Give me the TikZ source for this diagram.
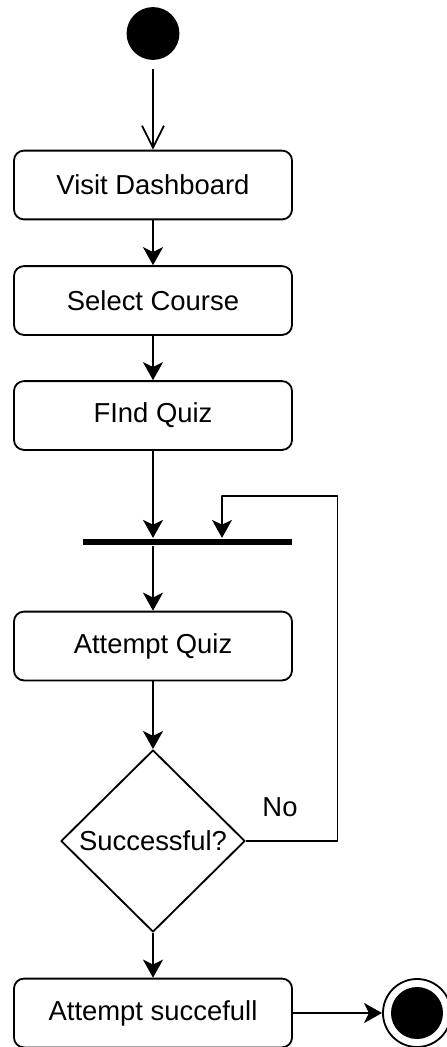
\documentclass[tikz,border=0pt]{standalone}
\usepackage{fontspec}
\setmainfont{Liberation Sans}
\usetikzlibrary{arrows.meta,shapes.geometric}
\begin{document}
\begin{tikzpicture}[x=0.025cm, y=-0.025cm, line join=round, line width=1.3pt, font=\fontsize{19.5pt}{23pt}\selectfont, >={Stealth[length=0.45cm,width=0.5cm,inset=0.12cm]},
	act/.style={draw, rounded corners=0.25cm, minimum width=6.95cm, minimum height=1.72cm, inner sep=0pt},
	decide/.style={draw, diamond, minimum width=4.6cm, minimum height=4.55cm, inner sep=0pt},
	bar/.style={fill, rectangle, minimum width=5.22cm, minimum height=0.16cm, inner sep=0pt}]
	\useasboundingbox (0,0) rectangle (447,1047);
	\node (start) [circle, fill, minimum size=1.32cm, inner sep=0pt] at (153,33.5) {};
	\node (visit) [act] at (153,185) {Visit Dashboard};
	\node (select) [act] at (153,300.5) {Select Course};
	\node (find) [act] at (153,415.5) {FInd Quiz};
	\node (fork) [bar] at (187.5,542) {};
	\node (attempt) [act] at (153,646) {Attempt Quiz};
	\node (check) [decide] at (153,841) {Successful?};
	\node (done) [act] at (153,1013) {Attempt succefull};
	\node (stop) [circle, draw, minimum size=1.7cm, inner sep=0pt] at (417,1013) {};
	\node (stopdot) [circle, fill, minimum size=1.3cm, inner sep=0pt] at (stop) {};
	\node (no) at (280,807) {No};
	\coordinate (loopA) at (337.5,841);
	\coordinate (loopB) at (337.5,496);
	\coordinate (loopC) at (222,496);
	\draw[-{Straight Barb[length=0.55cm,width=0.55cm]}, shorten <=0.2cm] (start)--(visit);
	\draw[->] (visit)--(select);
	\draw[->] (select)--(find);
	\draw[->] (find.south)--(find.south |- fork.north);
	\draw[->] (attempt.north |- fork.south)--(attempt.north);
	\draw[->] (attempt)--(check);
	\draw[->] (check)--(done);
	\draw[->] (done)--(stop);
	\draw[->] (check.east)--(loopA)--(loopB)--(loopC)--(loopC |- fork.north);
\end{tikzpicture}
\end{document}
